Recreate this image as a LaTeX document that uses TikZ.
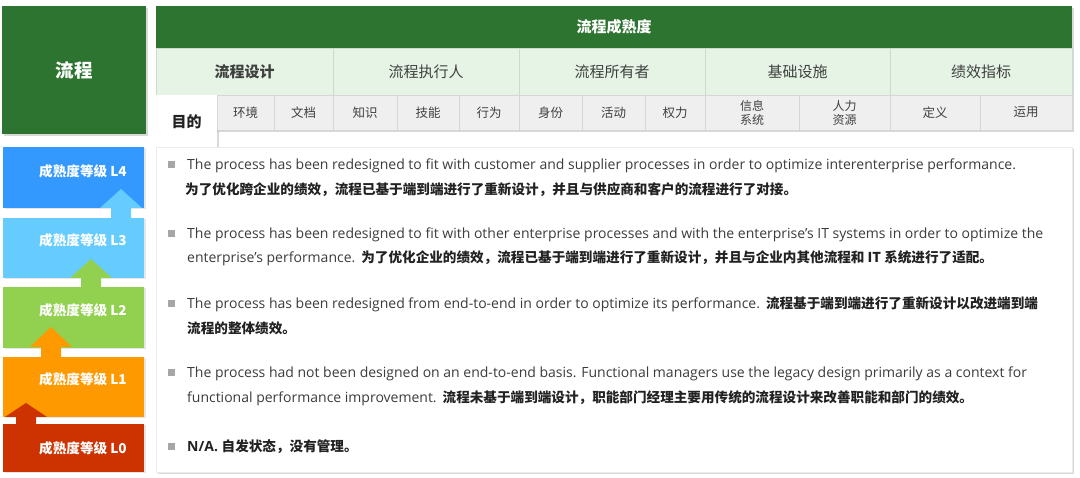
\documentclass[tikz,border=0pt]{standalone}
\usepackage{fontspec}
\setmainfont{Open Sans}
\newfontfamily\cjk{Noto Sans CJK SC}
\usetikzlibrary{positioning, shadows}
\definecolor{flowgreen}{HTML}{2E7431}
\definecolor{palegreen}{HTML}{E5F4E5}
\definecolor{linegreen}{HTML}{CADBCA}
\definecolor{cellgray}{HTML}{EFEFEF}
\definecolor{linegray}{HTML}{D6D6D6}
\definecolor{hdrtext}{HTML}{404040}
\definecolor{bodytext}{HTML}{3C3C3C}
\definecolor{cntext}{HTML}{222222}
\definecolor{lvfour}{HTML}{3399FF}
\definecolor{lvthree}{HTML}{66CCFF}
\definecolor{lvtwo}{HTML}{92D050}
\definecolor{lvone}{HTML}{FF9900}
\definecolor{lvzero}{HTML}{CC3300}
\tikzstyle{title} = [rectangle, fill=flowgreen, text=white, inner sep=0pt, outer sep=0pt, anchor=north west]
\tikzstyle{grp} = [rectangle, fill=palegreen, draw=linegreen, text=hdrtext, minimum height=47pt, inner sep=0pt, outer sep=0pt, anchor=north west, font=\cjk\fontsize{15}{18}\selectfont]
\tikzstyle{sub} = [rectangle, fill=cellgray, draw=linegray, text=hdrtext, minimum height=35pt, inner sep=0pt, outer sep=0pt, anchor=north west, align=center, font=\cjk\fontsize{12.5}{15}\selectfont]
\tikzstyle{softshadow} = [drop shadow={opacity=0.3, shadow xshift=2pt, shadow yshift=-2pt}]
\tikzstyle{lvbox} = [rectangle, minimum width=141pt, inner sep=0pt, outer sep=0pt, anchor=north west, drop shadow={opacity=0.2, shadow xshift=1.5pt, shadow yshift=-1.5pt}]
\tikzstyle{lvtext} = [text=white, font=\cjk\bfseries\fontsize{13.6}{15}\selectfont]
\tikzstyle{sqbullet} = [rectangle, fill=black!35, minimum size=7pt, inner sep=0pt]
\tikzstyle{en} = [anchor=base west, inner sep=0pt, text=bodytext, font=\fontsize{14}{16}\selectfont]
\newcommand{\cnbold}[1]{{\cjk\bfseries\fontsize{13.6}{15}\selectfont\color{cntext}#1}}
% block arrow pointing up: colour, centre x, tip y, head base y, shaft end y
\newcommand{\uparr}[5]{\fill[#1] (#2,#3) -- ({#2+21},#4) -- ({#2+10},#4) -- ({#2+10},#5)
  -- ({#2-10},#5) -- ({#2-10},#4) -- ({#2-21},#4) -- cycle;}

\begin{document}
\begin{tikzpicture}[x=1pt, y=-1pt]
        \useasboundingbox (0,0) rectangle (1080,478);

        % left title
        \node (flow) [title, softshadow, minimum width=144pt, minimum height=128pt, font=\cjk\bfseries\fontsize{18.5}{20}\selectfont] at (2,6) {流程};

        % header table
        \node (table) [rectangle, fill=white, minimum width=916pt, minimum height=124pt, anchor=north west, softshadow] at (156,6) {};
        \node (maturity) [title, minimum width=916pt, minimum height=42pt, font=\cjk\bfseries\fontsize{15}{18}\selectfont] at (156,6) {流程成熟度};

        \node (design) [grp, minimum width=177pt, font=\cjk\bfseries\fontsize{15}{18}\selectfont] at (156,48) {流程设计};
        \node (performer) [grp, minimum width=186pt] at (design.north east) {流程执行人};
        \node (owner) [grp, minimum width=186pt] at (performer.north east) {流程所有者};
        \node (infra) [grp, minimum width=185pt] at (owner.north east) {基础设施};
        \node (metrics) [grp, minimum width=182pt] at (infra.north east) {绩效指标};

        \node (purpose) [rectangle, fill=white, minimum width=61pt, minimum height=53pt, inner sep=0pt, outer sep=0pt, anchor=north west, softshadow, text=cntext, font=\cjk\bfseries\fontsize{15}{18}\selectfont] at (156,95) {目的};
        \node (env) [sub, minimum width=57pt] at (purpose.north east) {环境};
        \node (docs) [sub, minimum width=59pt] at (env.north east) {文档};
        \node (know) [sub, minimum width=64pt] at (docs.north east) {知识};
        \node (skill) [sub, minimum width=62pt] at (know.north east) {技能};
        \node (behave) [sub, minimum width=60pt] at (skill.north east) {行为};
        \node (ident) [sub, minimum width=63pt] at (behave.north east) {身份};
        \node (activ) [sub, minimum width=63pt] at (ident.north east) {活动};
        \node (power) [sub, minimum width=60pt] at (activ.north east) {权力};
        \node (infosys) [sub, minimum width=94pt, font=\cjk\fontsize{12}{14}\selectfont] at (power.north east) {信息\\系统};
        \node (hr) [sub, minimum width=91pt, font=\cjk\fontsize{12}{14}\selectfont] at (infosys.north east) {人力\\资源};
        \node (define) [sub, minimum width=90pt] at (hr.north east) {定义};
        \node (apply) [sub, minimum width=92pt] at (define.north east) {运用};

        % description panel
        \node (panel) [rectangle, fill=white, draw=black!8, minimum width=916pt, minimum height=325pt, anchor=north west, softshadow] at (156,147) {};

        \node (b4) [sqbullet] at (171,164.5) {};
        \node (e4) [en] at (187,170) {The process has been redesigned to fit with customer and supplier processes in order to optimize interenterprise performance.};
        \node (c4) [en] at (185,195) {\cnbold{为了优化跨企业的绩效，流程已基于端到端进行了重新设计，并且与供应商和客户的流程进行了对接。}};

        \node (b3) [sqbullet] at (171,233.5) {};
        \node (e3) [en] at (187,239) {The process has been redesigned to fit with other enterprise processes and with the enterprise's IT systems in order to optimize the};
        \node (c3) [en] at (187,263) {enterprise's performance.\hspace{6pt}\cnbold{为了优化企业的绩效，流程已基于端到端进行了重新设计，并且与企业内其他流程和 IT 系统进行了适配。}};

        \node (b2) [sqbullet] at (171,303.5) {};
        \node (e2) [en] at (187,309) {The process has been redesigned from end-to-end in order to optimize its performance.\hspace{6pt}\cnbold{流程基于端到端进行了重新设计以改进端到端}};
        \node (c2) [en] at (187,334) {\cnbold{流程的整体绩效。}};

        \node (b1) [sqbullet] at (171,372.5) {};
        \node (e1) [en] at (187,378) {The process had not been designed on an end-to-end basis. Functional managers use the legacy design primarily as a context for};
        \node (c1) [en] at (187,403) {functional performance improvement.\hspace{6pt}\cnbold{流程未基于端到端设计，职能部门经理主要用传统的流程设计来改善职能和部门的绩效。}};

        \node (b0) [sqbullet] at (171,446.5) {};
        \node (e0) [en] at (187,452) {\textbf{\color{cntext}N/A.} \cnbold{自发状态，没有管理。}};

        % maturity levels, bottom up
        \node (l0) [lvbox, fill=lvzero, minimum height=48pt] at (3,424) {};
        \node (l1) [lvbox, fill=lvone, minimum height=60pt] at (3,357) {};
        \uparr{lvzero}{26}{403}{417}{424}
        \node (l2) [lvbox, fill=lvtwo, minimum height=61pt] at (3,287) {};
        \uparr{lvone}{51}{327}{347}{357}
        \node (l3) [lvbox, fill=lvthree, minimum height=60pt] at (3,218) {};
        \uparr{lvtwo}{91}{259}{278}{287}
        \node (l4) [lvbox, fill=lvfour, minimum height=61pt] at (3,147) {};
        \uparr{lvthree}{121}{189}{208}{218}

        \node (t0) [lvtext] at (83,448) {成熟度等级 L0};
        \node (t1) [lvtext] at (83,379) {成熟度等级 L1};
        \node (t2) [lvtext] at (83,310) {成熟度等级 L2};
        \node (t3) [lvtext] at (83,240) {成熟度等级 L3};
        \node (t4) [lvtext] at (83,171) {成熟度等级 L4};

    \end{tikzpicture}
\end{document}
